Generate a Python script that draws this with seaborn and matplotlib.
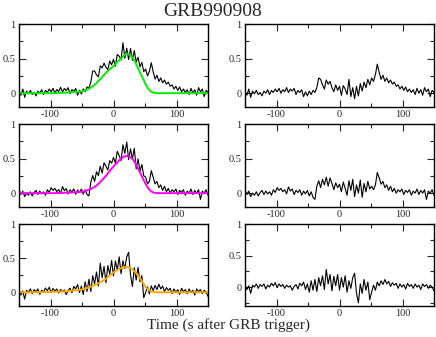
import numpy as np
import pandas as pd
import matplotlib
matplotlib.use("Agg")
import matplotlib.pyplot as plt
import seaborn as sns
from matplotlib.ticker import MultipleLocator

# time bins (s after trigger)
time_s = np.arange(-150, 151, 3)

# fitted pulse models (left column)
fit_green = [0.0] * 20 + [
    0.003, 0.004, 0.005, 0.006, 0.007, 0.008, 0.01, 0.012, 0.014, 0.016,
    0.018, 0.02, 0.023, 0.027, 0.032, 0.04, 0.05, 0.065, 0.08, 0.10,
    0.12, 0.145, 0.175, 0.205, 0.235, 0.265, 0.295, 0.32, 0.345, 0.37,
    0.39, 0.42, 0.45, 0.475, 0.50, 0.53, 0.555, 0.57, 0.565, 0.545,
    0.515, 0.475, 0.42, 0.36, 0.30, 0.245, 0.19, 0.13, 0.08, 0.045,
    0.02, 0.008, 0.003,
] + [0.0] * 28

fit_magenta = [0.0] * 20 + [
    0.002, 0.003, 0.004, 0.005, 0.006, 0.007, 0.008, 0.009, 0.01, 0.012,
    0.014, 0.016, 0.018, 0.02, 0.025, 0.03, 0.04, 0.05, 0.06, 0.075,
    0.09, 0.11, 0.135, 0.16, 0.19, 0.22, 0.25, 0.285, 0.32, 0.355,
    0.385, 0.415, 0.445, 0.475, 0.50, 0.52, 0.535, 0.54, 0.535, 0.52,
    0.495, 0.46, 0.41, 0.355, 0.30, 0.245, 0.19, 0.135, 0.085, 0.05,
    0.025, 0.01, 0.004,
] + [0.0] * 28

fit_orange = [0.0] * 12 + [
    0.002, 0.003, 0.003, 0.004, 0.005, 0.006, 0.007, 0.008, 0.009, 0.01,
    0.011, 0.013, 0.015, 0.017, 0.019, 0.021, 0.024, 0.027, 0.03, 0.033,
    0.037, 0.042, 0.048, 0.055, 0.063, 0.072, 0.082, 0.093, 0.105, 0.118,
    0.132, 0.147, 0.163, 0.18, 0.2, 0.222, 0.245, 0.268, 0.29, 0.31,
    0.325, 0.34, 0.352, 0.362, 0.368, 0.37, 0.366, 0.355, 0.335, 0.31,
    0.28, 0.245, 0.205, 0.165, 0.12, 0.08, 0.05, 0.028, 0.014, 0.006,
    0.002,
] + [0.0] * 28

# residuals (right column)
resid_1 = [
    0.02, -0.03, 0.06, -0.06, 0.03, -0.01, 0.04, -0.02, 0.01, -0.04,
    0.03, 0.0, 0.05, -0.02, 0.04, 0.01, 0.06, 0.02, 0.07, 0.0,
    0.05, 0.02, 0.08, 0.01, 0.06, 0.03, 0.07, -0.02, 0.04, 0.01,
    0.05, -0.05, 0.02, -0.04, 0.03, -0.02, 0.04, 0.01, 0.08, 0.22,
    0.2, 0.12, 0.06, 0.19, 0.13, 0.17, 0.08, 0.02, 0.12, 0.04,
    0.1, -0.03, 0.11, 0.06, -0.02, 0.2, -0.05, 0.08, -0.08, 0.1,
    -0.04, 0.14, 0.03, 0.16, 0.08, 0.2, 0.12, 0.22, 0.17, 0.27,
    0.42, 0.3, 0.2, 0.26, 0.17, 0.22, 0.15, 0.19, 0.13, 0.16,
    0.1, 0.12, 0.06, 0.1, 0.04, 0.09, 0.02, 0.06, 0.01, 0.05,
    -0.02, 0.07, 0.0, 0.05, -0.03, 0.08, 0.02, 0.06, -0.05, 0.04,
    0.01,
]

resid_2 = [
    0.05, -0.02, 0.03, -0.05, 0.0, -0.03, 0.02, -0.04, 0.01, 0.04,
    -0.02, 0.03, -0.01, 0.02, -0.03, 0.05, 0.01, 0.08, 0.04, 0.07,
    0.02, 0.05, -0.01, 0.09, 0.03, 0.06, -0.02, 0.04, 0.01, 0.05,
    -0.03, 0.03, -0.01, 0.04, -0.04, 0.02, -0.06, -0.09, 0.1, 0.18,
    0.08, 0.2, 0.12, 0.23, 0.1, 0.22, 0.14, 0.05, 0.15, 0.08,
    0.13, 0.02, 0.16, 0.07, -0.03, 0.18, 0.04, 0.2, -0.05, 0.12,
    0.0, 0.19, -0.06, 0.14, 0.02, 0.17, 0.06, 0.1, 0.05, 0.12,
    0.3, 0.22, 0.13, 0.17, 0.08, 0.12, 0.04, 0.1, 0.02, 0.07,
    0.0, 0.05, 0.02, 0.06, -0.02, 0.04, 0.01, 0.05, -0.03, 0.03,
    0.0, 0.06, -0.02, 0.04, 0.0, 0.05, -0.09, 0.03, 0.0, 0.05,
    -0.03,
]

resid_3 = [
    0.03, -0.04, 0.02, -0.1, 0.03, 0.0, 0.05, -0.02, 0.04, 0.01,
    0.05, -0.03, 0.03, 0.0, 0.06, 0.02, 0.07, -0.01, 0.05, 0.01,
    0.04, -0.02, 0.03, 0.0, 0.02, -0.05, 0.01, 0.04, -0.03, 0.06,
    0.02, 0.08, -0.04, 0.05, -0.08, 0.1, -0.05, 0.12, -0.07, 0.15,
    0.02, 0.18, -0.04, 0.28, 0.05, 0.2, -0.06, 0.17, 0.02, 0.2,
    -0.05, 0.15, 0.0, 0.18, -0.08, 0.1, -0.02, 0.15, 0.22, -0.1,
    -0.25, 0.05, -0.1, 0.12, -0.05, 0.08, -0.2, -0.08, 0.03, -0.05,
    0.08, 0.02, 0.1, 0.04, 0.12, 0.05, 0.09, 0.01, 0.07, 0.03,
    0.06, -0.02, 0.05, 0.0, 0.04, -0.03, 0.06, 0.01, 0.04, -0.02,
    0.05, 0.0, 0.03, -0.04, 0.05, 0.01, 0.04, -0.02, 0.03, 0.0,
    -0.06,
]

fit_colors = ["#00ee00", "#ff00ff", "#ffa500"]
resid_ylims = [(-0.2, 1.0), (-0.2, 1.0), (-0.3, 1.0)]

sns.set_style("ticks")
plt.rcParams["font.family"] = ["Liberation Serif", "DejaVu Serif"]
plt.rcParams["axes.unicode_minus"] = False

fig = plt.figure(figsize=(4.36, 3.37), dpi=100)
W, H = 436.0, 337.0
col_x = [19, 245]
row_y = [(24, 107), (124, 207), (224, 306)]
panel_w = 189


def style_axis(ax, ylim):
    ax.set_xlim(-150, 150)
    ax.set_ylim(*ylim)
    ax.xaxis.set_major_locator(MultipleLocator(100))
    ax.xaxis.set_minor_locator(MultipleLocator(50))
    ax.yaxis.set_major_locator(MultipleLocator(0.5))
    ax.yaxis.set_minor_locator(MultipleLocator(0.25))
    ax.tick_params(which="both", direction="in", top=True, right=True,
                   labelsize=7.5, width=0.8, pad=2.5)
    ax.tick_params(which="major", length=5)
    ax.tick_params(which="minor", length=3)
    ax.set_yticks([0, 0.5, 1])
    ax.set_yticklabels(["0", "0.5", "1"])
    for sp in ax.spines.values():
        sp.set_linewidth(1.0)
        sp.set_color("black")
    ax.set_xlabel("")
    ax.set_ylabel("")


fits = [fit_green, fit_magenta, fit_orange]
resids = [resid_1, resid_2, resid_3]

for i in range(3):
    top, bot = row_y[i]
    df = pd.DataFrame({
        "time": time_s,
        "fit": fits[i],
        "resid": resids[i],
    })
    df["counts"] = df["fit"] + df["resid"]

    ax_l = fig.add_axes([col_x[0] / W, 1 - bot / H, panel_w / W, (bot - top) / H])
    sns.lineplot(data=df, x="time", y="counts", ax=ax_l, color="black", lw=0.8)
    sns.lineplot(data=df, x="time", y="fit", ax=ax_l, color=fit_colors[i], lw=1.4)
    style_axis(ax_l, (-0.2, 1.0))

    ax_r = fig.add_axes([col_x[1] / W, 1 - bot / H, panel_w / W, (bot - top) / H])
    sns.lineplot(data=df, x="time", y="resid", ax=ax_r, color="black", lw=0.8)
    style_axis(ax_r, resid_ylims[i])

fig.text(0.487, 1 - 12 / H, "GRB990908", ha="center", va="center", fontsize=14)
fig.text(0.525, 1 - 325 / H, "Time (s after GRB trigger)", ha="center",
         va="center", fontsize=11)

fig.savefig("out.png", dpi=100)
